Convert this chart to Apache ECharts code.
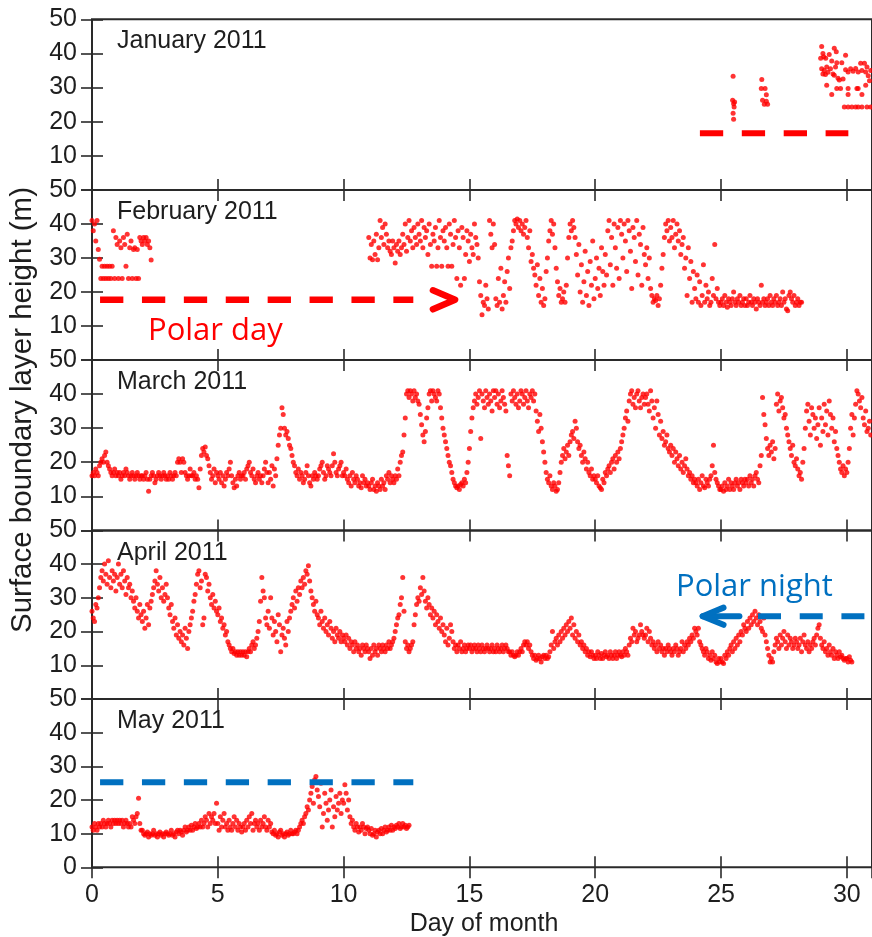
<!DOCTYPE html>
<html>
<head>
<meta charset="utf-8">
<script src="https://cdn.jsdelivr.net/npm/echarts@6/dist/echarts.min.js"></script>
<style>
  html, body { margin: 0; padding: 0; background: #fff; }
  #chart { width: 872px; height: 937px; }
</style>
</head>
<body>
<div id="chart"></div>
<script>
// Surface boundary layer height, one panel per month (Jan-May 2011).
// Regular sequences are sampled every 0.05 day starting at the given day.
const sampleStep = 0.05;
const monthTitles = ['January 2011', 'February 2011', 'March 2011', 'April 2011', 'May 2011'];
const dayTicks = [0, 5, 10, 15, 20, 25, 30];
const heightTicks = [0, 10, 20, 30, 40, 50];

// January: only a few short bursts at the end of the month, [day, height]
const janPoints = [
  [25.48, 33.3], [25.46, 26.3], [25.5, 25.3], [25.52, 24.3], [25.48, 22.5], [25.5, 20.7], [25.54, 25.8],
  [26.62, 32.4], [26.6, 29.7], [26.75, 29.7], [26.8, 27.9], [26.65, 26.3], [26.72, 25.1], [26.85, 25.1], [26.8, 26.0],
  [28.96, 38.6], [29.0, 42.0], [29.05, 40.0], [29.08, 39.0], [29.16, 38.6], [29.0, 35.5], [29.05, 34.0],
  [29.1, 35.0], [29.15, 33.8], [29.2, 36.0], [29.25, 34.5], [29.3, 39.7], [29.35, 35.5], [29.4, 37.8],
  [29.45, 34.0], [29.5, 41.5], [29.58, 40.5], [29.55, 36.0], [29.5, 33.6], [29.6, 37.3], [29.65, 32.7],
  [29.7, 32.2], [29.8, 37.3], [29.85, 32.5], [29.95, 39.5], [29.95, 35.2], [30.05, 34.6], [30.15, 35.5],
  [30.25, 34.8], [30.35, 35.6], [30.45, 34.6], [30.55, 37.1], [30.6, 35.0], [30.7, 37.1], [30.75, 34.6],
  [30.8, 36.0], [30.85, 33.5], [30.9, 32.0], [30.95, 35.0], [29.2, 30.7], [29.6, 29.7], [29.75, 29.7],
  [30.05, 29.7], [30.4, 29.7], [30.45, 29.7], [30.75, 30.7], [29.4, 28.0], [30.05, 28.0], [30.6, 28.0],
  [29.9, 24.3], [30.05, 24.3], [30.2, 24.3], [30.35, 24.3], [30.45, 24.3], [30.6, 24.3], [30.8, 24.3], [30.95, 24.3]
];

// February, first days (from day 0)
const febStartA = 0;
const febHeightsA = [
  41, 38, 40, 35, 41, 32.5, 29.6, 24, 27.6, 24, 27.6, 24, 27.6, 24, 27.6, 24, 27.6, 38, 24, 36,
  34, 24, 35, 33, 24, 36, 34, 27.6, 37, 24, 33, 35, 24, 32.5, 33, 24, 32.5, 24, 36, 35,
  34, 36, 35, 36, 34, 35, 33, 29.4
];

// February, from day 11 onwards
const febStartB = 11;
const febHeightsB = [
  36, 30, 34, 29.5, 35, 31, 37, 29.5, 33, 41, 36, 39, 34, 40, 37, 33, 35, 32, 31, 35,
  33, 28.5, 34, 32, 35, 31, 33, 37, 34, 40, 32, 36, 41, 35, 38, 33, 39, 36, 34, 40,
  37, 35, 41, 33, 39, 36, 38, 31, 40, 34, 27.6, 37, 35, 39, 27.6, 33, 41, 36, 27.6, 38,
  35, 39, 33, 27.6, 40, 37, 27.6, 34, 41, 36, 24, 38, 33, 22, 39, 36, 24, 31, 38, 35,
  29, 37, 33, 31, 40, 36, 34, 30, 23, 19, 13.3, 17, 16, 22, 18, 15, 41, 37, 33, 40,
  34, 18, 16, 24, 17, 27, 15, 19, 23, 17, 26, 30, 21, 33, 35, 38, 41, 40, 41.5, 39,
  41, 38, 40, 37, 39, 41, 36, 33, 38, 29, 31, 27, 25, 22, 28, 19, 24, 17, 21, 16,
  18, 26, 30, 35, 38, 41, 37, 40, 33, 27, 23, 19, 21, 17, 18, 20, 17, 22, 30, 36,
  40, 38, 41, 39, 36, 31, 25, 34, 20, 28, 17, 23, 32, 19, 26, 16, 29, 22, 35, 18,
  24, 30, 21, 27, 19, 33, 26, 22, 31, 25, 38, 41, 28, 36, 22, 40, 33, 27, 39, 24,
  41, 37, 30, 40, 35, 26, 41, 38, 32, 21, 39, 36, 29, 41, 25, 37, 34, 22, 39, 31,
  28, 33, 24, 30, 21, 19, 17, 18, 17.5, 19, 16, 18, 22, 27, 31, 36, 40, 38, 41, 35,
  39, 36, 41, 33, 37, 40, 35, 38, 31, 34, 36, 27, 30, 19, 33, 24, 29, 17, 26, 21,
  18, 25, 17, 23, 16, 19, 28, 17, 22, 18, 20, 16, 17, 24, 19, 34, 18, 21, 17, 16,
  17, 18, 16, 19, 17, 15.5, 18, 17, 16, 18, 20, 17, 16, 18, 17, 19, 16, 17, 18, 16,
  18, 16, 17, 19, 17, 16, 18, 17, 15, 18, 17, 16, 22, 17, 18, 16, 17, 18, 16, 19,
  17, 16, 18, 17, 19, 16, 17, 18, 16, 20, 17, 18, 15, 14.5, 19, 20, 18, 17, 19, 16,
  17, 18, 16, 17, 17
];

// March, whole month
const marStart = 0;
const marHeights = [
  16, 17, 16, 18, 17, 16, 19, 20, 21, 20, 22, 23, 20, 19, 18, 17, 16, 17, 18, 16,
  17, 16, 17, 15, 16, 17, 16, 18, 17, 16, 15, 16, 17, 16, 15, 16, 17, 16, 15, 16,
  16, 15, 16, 17, 15, 11.5, 15, 16, 17, 16, 14, 15, 16, 17, 16, 15, 16, 17, 16, 15,
  16, 15, 17, 16, 15, 16, 17, 16, 20, 21, 20, 17, 21, 20, 17, 16, 15, 16, 18, 16,
  16, 17, 15, 16, 15, 12.5, 18, 22, 24, 23, 24.5, 22, 21, 19, 17, 15, 16, 18, 14, 17,
  16, 15, 17, 14, 16, 13, 15, 17, 16, 18, 20, 16, 14, 12.5, 15, 13, 16, 17, 15, 16,
  16, 17, 15, 18, 19, 20, 17, 16, 18, 15, 14, 16, 17, 15, 16, 14, 16, 18, 20, 17,
  14, 17, 15, 19, 13, 18, 16, 21, 25, 28, 30, 36, 34, 30, 28, 29, 27, 25, 24, 22,
  20, 19, 17, 16, 18, 15, 17, 16, 14, 15, 17, 19, 16, 14, 13, 16, 15, 17, 16, 15,
  16, 18, 19, 20, 17, 15, 16, 19, 18, 17, 16, 19, 22.5, 20, 17, 16, 18, 19, 20, 16,
  17, 16, 18, 15, 14, 16, 13, 17, 15, 14, 16, 15, 13, 14, 12.5, 16, 14, 15, 13, 14,
  13, 12, 14, 15, 12, 13, 11.5, 14, 13, 12, 15, 13, 14, 12, 16, 15, 17, 14, 16, 15,
  14, 16, 15, 18, 16, 20, 22, 23, 28, 33, 40, 41, 39, 41, 40, 38, 41, 39, 40, 38,
  37, 34, 31, 28, 26, 29, 33, 36, 40, 41, 38, 41, 40, 39, 38, 41, 40, 36, 33, 30,
  28, 26, 24, 22, 20, 19, 17, 15, 14, 13, 12.5, 13, 12, 13.5, 14, 13, 15, 14, 17, 20,
  24, 29, 33, 36, 38, 40, 37, 39, 41, 27, 40, 38, 36, 41, 39, 37, 40, 38, 35, 41,
  39, 41, 37, 40, 36, 38, 41, 39, 37, 35, 22, 19, 16, 40, 38, 41, 39, 37, 40, 36,
  38, 41, 40, 37, 39, 41, 38, 36, 40, 39, 41, 38, 40, 35, 32, 29, 34, 30, 26, 23,
  20, 17, 15, 14, 16, 13, 12, 14, 13, 11.5, 12, 14, 17, 20, 22, 24, 21, 23, 25, 22,
  26, 28, 29, 27, 32, 30, 26, 24, 25, 22, 20, 23, 21, 18, 20, 17, 16, 18, 15, 16,
  15, 14, 16, 13, 12.5, 12, 15, 14, 17, 16, 18, 19, 17, 20, 21, 18, 22, 20, 23, 21,
  24, 26, 28, 30, 33, 35, 32, 38, 40, 41, 37, 39, 36, 40, 41, 38, 36, 39, 40, 37,
  39, 40, 37, 35, 41, 38, 33, 36, 30, 38, 34, 28, 32, 27, 29, 25, 26, 28, 24, 23,
  25, 22, 24, 20, 23, 21, 19, 22, 18, 20, 17, 19, 21, 18, 16, 17, 15, 16, 14, 15,
  14, 13, 15, 12, 14, 16, 13, 12.5, 15, 14, 13, 15, 16, 19, 25, 17, 15, 14, 13, 12,
  12, 13, 11.5, 14, 12, 13, 15, 12, 14, 13, 12, 14, 15, 13, 14, 12, 15, 14, 13, 15,
  14, 15, 13, 16, 14, 15, 13, 16, 17, 15, 14, 19, 22, 39, 34, 31, 27, 24, 22, 25,
  23, 26, 21, 24, 37, 40, 35, 38, 39, 36, 33, 34, 30, 28, 26, 24, 22, 25, 20, 19,
  21, 18, 16, 17, 15, 20, 24, 30, 35, 37, 32, 28, 36, 34, 30, 33, 27, 31, 36, 25,
  33, 29, 37, 31, 35, 28, 38, 34, 30, 33, 26, 29, 24, 22, 20, 18, 17, 19, 16, 18,
  17, 20, 24, 30, 34, 28, 33, 37, 41, 40, 38, 36, 39, 33, 31, 35, 29, 30, 32, 28
];

// April, day 0 to 30.2
const aprStart = 0;
const aprHeights = [
  26, 24, 23, 28, 27, 30, 33, 36, 38, 35, 40, 37, 34, 41, 36, 33, 38, 35, 37, 32,
  36, 40, 34, 37, 33, 38, 35, 31, 36, 33, 34, 30, 32, 29, 27, 30, 26, 24, 28, 25,
  23, 26, 21, 24, 28, 22, 27, 29, 31, 33, 35, 38, 34, 32, 36, 30, 33, 29, 31, 34,
  30, 27, 25, 28, 23, 21, 24, 19, 22, 18, 20, 17, 19, 16, 21, 18, 15, 20, 22, 24,
  26, 29, 31, 34, 37, 38, 33, 35, 22, 24, 37, 36, 32, 34, 30, 28, 31, 27, 29, 26,
  25, 27, 23, 24, 21, 22, 19, 20, 17, 16, 15, 14, 15, 13.5, 14, 13, 14, 13, 14, 13,
  14, 13, 14, 12.5, 14, 15, 14, 16, 17, 15, 16, 18, 20, 23, 29, 36, 32, 30, 24, 22,
  26, 21, 30, 24, 19, 23, 20, 17, 25, 22, 14, 19, 21, 18, 16, 23, 20, 24, 26, 28,
  30, 27, 32, 29, 33, 31, 35, 33, 36, 34, 38, 37, 39.5, 35, 32, 30, 28, 26, 29, 25,
  24, 22, 26, 23, 21, 24, 20, 22, 19, 23, 21, 18, 20, 17, 21, 19, 18, 20, 17, 19,
  18, 17, 19, 16, 18, 15, 17, 16, 14, 17, 15, 16, 14, 15, 13, 16, 15, 14, 16, 15,
  14, 12, 15, 13, 16, 14, 15, 13, 16, 15, 14, 16, 15, 14, 16, 15, 17, 15, 16, 17,
  18, 20, 22, 24, 25, 28, 30, 36, 26, 17, 15, 16, 14, 15, 16, 17, 22, 25, 28, 30,
  29, 33, 31, 36, 32, 29, 27, 30, 28, 25, 27, 24, 26, 22, 25, 23, 21, 24, 20, 22,
  19, 17, 21, 16, 18, 22, 20, 17, 15, 16, 14, 16, 15, 17, 14, 15, 16, 14, 15, 16,
  15, 16, 14, 15, 16, 15, 14, 16, 15, 14, 16, 15, 14, 15, 16, 15, 14, 15, 16, 14,
  15, 14, 16, 15, 14, 15, 16, 14, 15, 16, 15, 14, 14, 13, 14, 13, 12.5, 13, 14, 13,
  14, 15, 14, 16, 17, 16, 17, 15, 16, 14, 13, 12, 13, 11.5, 12, 13, 12, 11, 12.5, 13,
  12, 13, 12, 12.5, 14, 16, 20, 15, 17, 18, 16, 19, 17, 20, 18, 21, 19, 22, 20, 23,
  21, 24, 19, 22, 18, 20, 17, 19, 16, 17, 15, 16, 14, 15, 13, 14, 12.5, 14, 13, 12,
  13, 12, 14, 13, 12, 13.5, 12, 13, 14, 12.5, 13, 12, 14, 13, 12, 13, 14, 12, 13, 14,
  13, 12.5, 14, 13, 15, 14, 13, 16, 18, 17, 21, 19, 20, 17, 18, 19, 22, 20, 19, 18,
  19, 21, 17, 20, 18, 16, 17, 15, 16, 14, 17, 15, 16, 14, 15, 13, 15, 14, 16, 15,
  14, 13, 15, 14, 16, 15, 13, 14, 15, 17, 14, 16, 15, 17, 16, 18, 17, 19, 18, 21,
  20, 19, 21, 17, 16, 15, 14, 13, 15, 14, 12, 13, 11.5, 14, 12, 13, 11, 10.5, 12, 11,
  12, 11, 10.5, 13, 12, 14, 13, 15, 16, 14, 17, 15, 18, 16, 19, 17, 20, 19, 22, 21,
  20, 23, 21, 24, 22, 25, 23, 26, 24, 22, 25, 23, 21, 20, 24, 19, 17, 15, 13, 11,
  12, 11, 14, 16, 18, 17, 15, 19, 16, 18, 20, 17, 15, 19, 16, 18, 17, 15, 16, 18,
  17, 15, 16, 18, 14, 17, 19, 16, 15, 17, 14, 16, 15, 17, 18, 16, 19, 21, 22, 18,
  16, 15, 17, 14, 15, 13, 16, 14, 13, 15, 12, 14, 13, 12, 14, 12.5, 13, 12, 11.5, 12,
  12, 11, 12.5, 11.5, 11
];

// May, day 0 to 12.6
const mayStart = 0;
const mayHeights = [
  12, 11, 13, 12, 11, 13, 12, 13, 12, 14, 13, 12, 13, 14, 13, 12, 14, 13, 14, 13,
  14, 13, 14, 13, 14, 12, 13, 14, 13, 12, 13, 12, 15, 14, 13, 15, 16, 20.5, 13, 11,
  11, 10, 9.5, 10, 10.5, 9, 10, 9.5, 10, 11, 9.5, 10, 9, 10, 10.5, 9.5, 10, 9, 10, 10.5,
  10, 9.5, 10, 11, 9.5, 10, 9, 10.5, 11, 10, 11, 10.5, 9.5, 11, 12, 10.5, 11, 12, 11, 12.5,
  11, 12, 13, 11.5, 12, 13, 12, 14, 12, 13, 15, 14, 12, 16, 13, 15, 14, 16, 13, 19,
  13, 11, 15, 12, 14, 16, 12, 13, 11, 14, 12, 11, 13, 15, 12, 14, 11, 13, 12, 10.5,
  12, 13, 11, 14, 12, 15, 13, 16, 11, 13, 14, 12, 13, 11, 14, 12, 13, 15, 12, 11,
  14, 12, 13, 10.5, 10, 11, 9.5, 10, 9, 10.5, 11, 9.5, 10, 9, 10, 10.5, 9.5, 10, 11, 10,
  10, 10.5, 11, 10, 11, 12, 13, 14, 13, 15, 16, 18, 17, 20, 22, 24, 19, 26, 27, 23,
  21, 18, 25, 12, 16, 22, 19, 14, 17, 20, 23, 12, 18, 15, 21, 17, 19, 22, 16, 20,
  19, 24.5, 22, 17, 20, 15, 13, 14, 12, 11, 13, 12, 10.5, 12, 11, 13, 12, 10, 11.5, 12,
  11, 10, 11.5, 9.5, 10, 11, 9, 10.5, 11, 10, 11.5, 10, 11, 12, 10.5, 11, 12, 11, 12.5, 11,
  12, 11.5, 12.5, 12, 13, 11.5, 12, 13, 12, 12.5, 11.5, 12, 12.5
];

// Annotation lines and arrowheads, [day, height]
const janRefLine = [[24.16, 16.65], [30.06, 16.65]];
const polarDayLine = [[0.32, 17.7], [12.77, 17.7]];
const polarDayArrow = [[13.55, 20.5], [14.43, 17.7], [13.55, 14.9]];
const polarNightShaft = [[24.27, 24.55], [25.73, 24.55]];
const polarNightArrow = [[25.1, 27.1], [24.27, 24.55], [25.1, 22.0]];
const polarNightLine = [[26.47, 24.55], [31.5, 24.55]];
const mayRefLine = [[0.32, 25.3], [12.77, 25.3]];

function seq(start, values) {
  const out = [];
  values.forEach(function (v, i) {
    if (v !== null) out.push([+(start + i * sampleStep).toFixed(3), v]);
  });
  return out;
}

const monthData = [
  janPoints,
  seq(febStartA, febHeightsA).concat(seq(febStartB, febHeightsB)),
  seq(marStart, marHeights),
  seq(aprStart, aprHeights),
  seq(mayStart, mayHeights)
];

// Panel layout (pixels)
const panelTops = [19.3, 190, 360, 530.4, 699];
const panelBottoms = [190, 360, 530.4, 699, 867.3];
const plotLeft = 92;
const plotWidth = 784;

const RED = '#ff0000';
const BLUE = '#0070c0';
const INK = '#1e1e1e';
const AXIS_FONT = '"Liberation Sans", Arial, sans-serif';

const grids = [], xAxes = [], yAxes = [], series = [], graphics = [];

panelTops.forEach(function (top, k) {
  const h = panelBottoms[k] - top;
  grids.push({
    left: plotLeft, top: top, width: plotWidth, height: h,
    show: true, borderColor: '#2a2a2a', borderWidth: 2, backgroundColor: 'transparent'
  });
  const tickStyle = { show: true, inside: true, length: 11, lineStyle: { color: '#2a2a2a', width: 1.6 } };
  ['bottom', 'top'].forEach(function (pos) {
    xAxes.push({
      type: 'value', gridIndex: k, position: pos, min: dayTicks[0], max: 31, interval: 5,
      axisLine: { show: false }, axisTick: tickStyle, splitLine: { show: false },
      axisLabel: {
        show: pos === 'bottom' && k === 4, margin: 15, showMaxLabel: false,
        fontSize: 25, fontFamily: AXIS_FONT, color: INK
      }
    });
  });
  ['left', 'right'].forEach(function (pos) {
    yAxes.push({
      type: 'value', gridIndex: k, position: pos,
      min: heightTicks[0], max: heightTicks[heightTicks.length - 1], interval: 10,
      axisLine: { show: false }, axisTick: tickStyle, splitLine: { show: false },
      axisLabel: {
        show: pos === 'left', margin: 15, showMinLabel: k === 4,
        fontSize: 25, fontFamily: AXIS_FONT, color: INK
      }
    });
  });
  series.push({
    type: 'scatter', xAxisIndex: 2 * k, yAxisIndex: 2 * k,
    data: monthData[k], symbol: 'circle', symbolSize: 5,
    itemStyle: { color: RED }, silent: true, z: 2
  });
  graphics.push({
    type: 'text', x: 117, y: top + 22.3,
    style: { text: monthTitles[k], font: '25px ' + AXIS_FONT, fill: INK, verticalAlign: 'middle' }
  });
});

function guide(k, data, color, width, dash) {
  series.push({
    type: 'line', xAxisIndex: 2 * k, yAxisIndex: 2 * k, data: data,
    symbol: 'none', silent: true, z: 5,
    lineStyle: { color: color, width: width, type: dash || 'solid', cap: dash ? 'butt' : 'round', join: 'round' }
  });
}

guide(0, janRefLine, RED, 6, [23.3, 18.6]);
guide(1, polarDayLine, RED, 6.5, [23.3, 18.6]);
guide(1, polarDayArrow, RED, 6.5);
guide(3, polarNightShaft, BLUE, 6);
guide(3, polarNightArrow, BLUE, 6);
guide(3, polarNightLine, BLUE, 6, [23, 18.7]);
guide(4, mayRefLine, BLUE, 6, [23.3, 18.6]);

graphics.push(
  { type: 'text', x: 148, y: 331, style: { text: 'Polar day', font: '31px "Open Sans", sans-serif', fill: RED, verticalAlign: 'middle' } },
  { type: 'text', x: 676, y: 587, style: { text: 'Polar night', font: '31px "Open Sans", sans-serif', fill: BLUE, verticalAlign: 'middle' } },
  { type: 'text', x: 484, y: 924, style: { text: 'Day of month', font: '25px ' + AXIS_FONT, fill: INK, align: 'center', verticalAlign: 'middle' } },
  { type: 'text', x: 22.5, y: 410, rotation: Math.PI / 2,
    style: { text: 'Surface boundary layer height (m)', font: '29.5px ' + AXIS_FONT, fill: INK, align: 'center', verticalAlign: 'middle' } }
);

const chart = echarts.init(document.getElementById('chart'), null, { renderer: 'canvas' });
chart.setOption({
  animation: false,
  backgroundColor: '#ffffff',
  grid: grids,
  xAxis: xAxes,
  yAxis: yAxes,
  series: series,
  graphic: graphics
});
</script>
</body>
</html>
